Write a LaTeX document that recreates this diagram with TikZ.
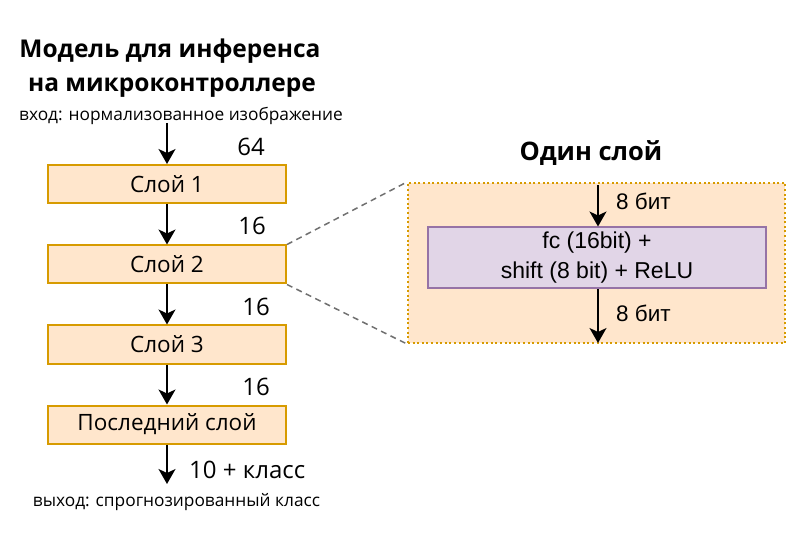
\documentclass[tikz,border=0pt]{standalone}
\usepackage{fontspec}
\setmainfont{Open Sans}
\newfontfamily\arialf{Liberation Sans}
\usetikzlibrary{arrows.meta}
\definecolor{orfill}{HTML}{FFE6CC}
\definecolor{ordraw}{HTML}{D79B00}
\definecolor{pufill}{HTML}{E1D5E7}
\definecolor{pudraw}{HTML}{9673A6}
\definecolor{zoomgray}{HTML}{707070}
\tikzset{
  layerbox/.style={draw=ordraw, fill=orfill, line width=2pt, minimum width=238pt, minimum height=38pt, inner sep=0pt, font=\fontsize{22.5}{27}\selectfont},
  flow/.style={line width=1.6pt, -{Stealth[length=15pt,width=17pt,inset=4pt]}},
  lbl/.style={font=\fontsize{24}{28}\selectfont, inner sep=0pt, anchor=base},
  small/.style={font=\fontsize{17.3}{20}\selectfont, inner sep=0pt, anchor=base},
  ttl/.style={font=\bfseries\fontsize{24.5}{28}\selectfont, inner sep=0pt, anchor=base},
  arl/.style={font=\arialf\fontsize{22.5}{27}\selectfont, inner sep=0pt, anchor=base west},
  zoomln/.style={draw=zoomgray, line width=1.5pt, dash pattern=on 6pt off 4.5pt},
}
\begin{document}
\begin{tikzpicture}[x=1pt,y=-1pt]
\useasboundingbox (0,0) rectangle (808,534);
% titles
\node[ttl] (t1) at (170,58) {Модель для инференса};
\node[ttl] (t2) at (172,92) {на микроконтроллере};
\node[small] (in) at (181,121) {вход: нормализованное изображение};
% layers
\node[layerbox] (l1) at (167,184) {Слой 1};
\node[layerbox] (l2) at (167,264.5) {Слой 2};
\node[layerbox] (l3) at (167,344.5) {Слой 3};
\node[layerbox] (l4) at (167,424.5) {Последний слой};
\coordinate (inpt) at (167,123);
\coordinate (outpt) at (167,484);
\draw[flow] (inpt) -- (l1.north);
\draw[flow] (l1.south) -- (l2.north);
\draw[flow] (l2.south) -- (l3.north);
\draw[flow] (l3.south) -- (l4.north);
\draw[flow] (l4.south) -- (outpt);
\node[lbl] (n64) at (251,156) {64};
\node[lbl] (n16a) at (252,235) {16};
\node[lbl] (n16b) at (256,316) {16};
\node[lbl] (n16c) at (256,395) {16};
\node[lbl, anchor=base west] (n10) at (189,478) {10 + класс};
\node[small] (out) at (176.5,506) {выход: спрогнозированный класс};
% one layer
\node[ttl, font=\bfseries\fontsize{25.5}{30}\selectfont] (t3) at (591,161) {Один слой};
\node[draw=ordraw, fill=orfill, line width=2pt, dash pattern=on 2pt off 2.6pt, minimum width=377pt, minimum height=160pt, inner sep=0pt] (big) at (596.5,263) {};
\node[draw=pudraw, fill=pufill, line width=2pt, minimum width=338pt, minimum height=61pt, inner sep=0pt, align=center, font=\arialf\fontsize{23}{30}\selectfont] (fc) at (597,258) {fc (16bit) +\\shift (8 bit) + ReLU};
\coordinate (fcin) at (598,185);
\coordinate (fcout) at (598,343);
\draw[flow] (fcin) -- (fcin |- fc.north);
\draw[flow] (fcout |- fc.south) -- (fcout);
\node[arl] (b1) at (616,210) {8 бит};
\node[arl] (b2) at (616,322) {8 бит};
% zoom lines
\draw[zoomln] (l2.north east) -- (big.north west);
\draw[zoomln] (l2.south east) -- (big.south west);
\end{tikzpicture}
\end{document}
